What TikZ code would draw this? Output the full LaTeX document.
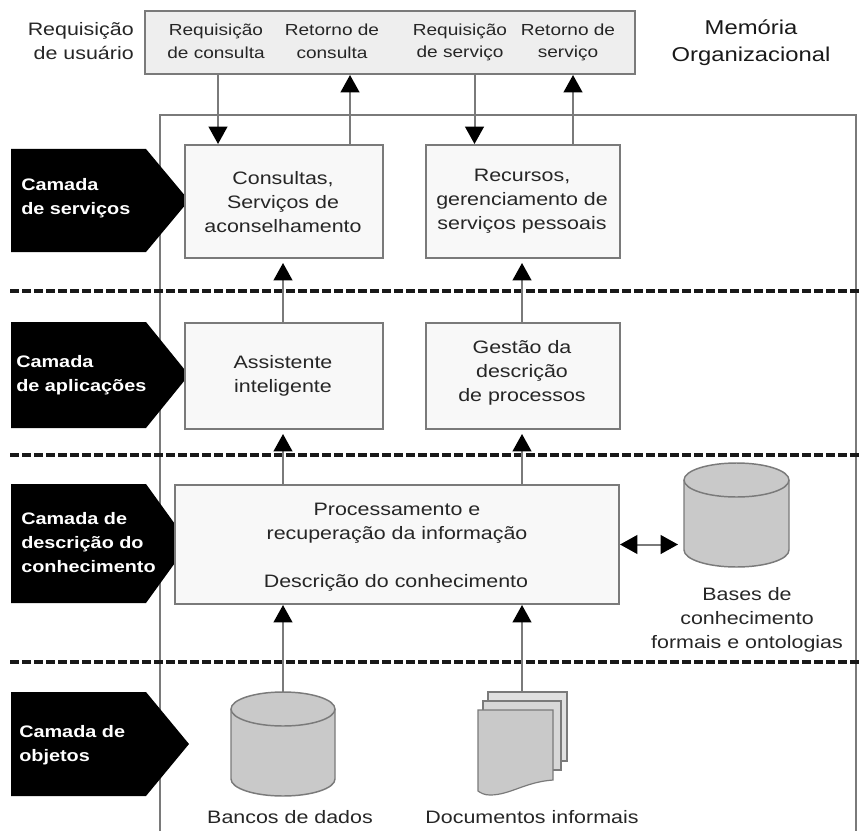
\documentclass[tikz,border=0pt]{standalone}
\usepackage{fontspec}
\setmainfont[FakeStretch=1.19]{Liberation Sans}
\usetikzlibrary{arrows.meta,shapes.geometric}
\definecolor{linegray}{HTML}{7A7A7A}
\definecolor{boxfill}{HTML}{F8F8F8}
\definecolor{topfill}{HTML}{EEEEEE}
\definecolor{shapefill}{HTML}{C9C9C9}
\newcommand{\cyl}[4]{% left, right, top, bottom
  \draw[shapeline] (#1,#3+17) -- (#1,#4-17) arc[start angle=180,end angle=0,x radius={(#2-#1)/2},y radius=17] -- (#2,#3+17) arc[start angle=0,end angle=-180,x radius={(#2-#1)/2},y radius=17] -- cycle;
  \draw[shapeline] (#1,#3+17) arc[start angle=180,end angle=0,x radius={(#2-#1)/2},y radius=17];
}
\tikzset{
  x=0.75pt,y=-0.75pt,
  frameline/.style={draw=linegray,line width=1.5pt},
  shapeline/.style={draw=linegray,line width=1.1pt,fill=shapefill},
  box/.style={rectangle,draw=linegray,line width=1.5pt,fill=boxfill,anchor=north west,inner sep=0pt,align=center,text=black!85},
  lbl/.style={align=center,inner sep=0pt,text=black!85,font=\fontsize{13.5pt}{18pt}\selectfont},
  small/.style={align=center,inner sep=0pt,text=black!85,font=\fontsize{12pt}{17pt}\selectfont},
  layer/.style={align=left,inner sep=0pt,anchor=west,text=white,font=\fontsize{12.5pt}{18pt}\selectfont\bfseries},
  sep/.style={draw=black!90,line width=2.7pt,dash pattern=on 6.4pt off 2.6pt},
  conn/.style={draw=linegray,line width=1.5pt},
  tip/.style={-{Triangle[black,width=14pt,length=13pt]}},
  blank/.style={inner sep=0pt,minimum size=0pt,anchor=north west,rectangle},
}
\begin{document}
\begin{tikzpicture}
\useasboundingbox (0,0) rectangle (859,831);
% outer frame
\draw[frameline] (159.5,831) -- (159.5,115) -- (856,115) -- (856,831);
% separators
\foreach \y in {291,455,662}{
  \draw[sep] (10,\y) -- (859,\y);
}
% layer pentagons
\foreach \t/\b in {149/252,322/428,484/603,692/796}{
  \fill[black] (11,\t) -- (146,\t) -- (189,{(\t+\b)/2}) -- (146,\b) -- (11,\b) -- cycle;
}
\node[layer] (l1) at (21,198.5) {Camada\\de serviços};
\node[layer] (l2) at (16,375) {Camada\\de aplicações};
\node[layer] (l3) at (21,543) {Camada de\\descrição do\\conhecimento};
\node[layer] (l4) at (19,745) {Camada de\\objetos};
% top box
\node[box,fill=topfill,minimum width=367.5pt,minimum height=47.25pt] (top) at (144,10) {};
\node[small] (t1) at (216,41) {Requisição\\de consulta};
\node[small] (t2) at (332,41) {Retorno de\\consulta};
\node[small] (t3) at (460,42.5) {Requisição\\de serviço};
\node[small] (t4) at (568,42.5) {Retorno de\\serviço};
\node[lbl,align=right,anchor=east] (ru) at (134,41) {Requisição\\de usuário};
\node[align=center,inner sep=0pt,text=black!90,font=\fontsize{15pt}{20pt}\selectfont] (mo) at (751,43) {Memória\\Organizacional};
% boxes
\node[box,minimum width=148.5pt,minimum height=84.75pt] (b1) at (184,144) {};
\node[lbl] at (283,202) {Consultas,\\Serviços de\\aconselhamento};
\node[box,minimum width=145.5pt,minimum height=84.75pt] (b2) at (425,144) {};
\node[lbl] at (522,201) {Recursos,\\gerenciamento de\\serviços pessoais};
\node[box,minimum width=148.5pt,minimum height=79.5pt] (b3) at (184,322) {};
\node[lbl] at (283,376) {Assistente\\inteligente};
\node[box,minimum width=145.5pt,minimum height=79.5pt] (b4) at (425,322) {};
\node[lbl] at (522,373) {Gestão da\\descrição\\de processos};
\node[box,minimum width=333pt,minimum height=89.25pt] (b5) at (174,484) {};
\node[lbl] at (397,523) {Processamento e\\recuperação da informação};
\node[lbl] at (396,583) {Descrição do conhecimento};
% cylinders and document stack
\cyl{231}{335}{692}{796}
\cyl{684}{789}{463}{567}
\node[blank,minimum width=78pt,minimum height=78pt] (db) at (231,692) {};
\node[blank,minimum width=78.75pt,minimum height=78pt] (kb) at (684,463) {};
\draw[shapeline,line width=0.9pt,fill=boxfill!50!shapefill] (488,692) -- (567,692) -- (567,761) -- (488,761) -- cycle;
\draw[shapeline,line width=0.9pt,fill=boxfill!30!shapefill] (483,701) -- (561,701) -- (561,770) -- (483,770) -- cycle;
\draw[shapeline,line width=0.9pt] (478,710) -- (553,710) -- (553,780) .. controls (525,782) and (510,795) .. (490,795) .. controls (484,795) and (481,793) .. (478,791) -- cycle;
\node[blank,minimum width=59pt,minimum height=3pt] (docs) at (478,692) {};
\node[lbl] at (290,817) {Bancos de dados};
\node[lbl] at (532,817) {Documentos informais};
\node[lbl] at (747,620) {Bases de\\conhecimento\\formais e ontologias};
% connectors
\coordinate (xa) at (218,0);
\coordinate (xb) at (350,0);
\coordinate (xc) at (474.5,0);
\coordinate (xd) at (573,0);
\coordinate (xe) at (283,0);
\coordinate (xf) at (522,0);
\draw[conn,tip] (xa |- top.south) -- (xa |- b1.north);
\draw[conn,tip] (xb |- b1.north) -- (xb |- top.south);
\draw[conn,tip] (xc |- top.south) -- (xc |- b2.north);
\draw[conn,tip] (xd |- b2.north) -- (xd |- top.south);
\draw[conn,tip,shorten >=3pt] (xe |- b3.north) -- (xe |- b1.south);
\draw[conn,tip,shorten >=3pt] (xf |- b4.north) -- (xf |- b2.south);
\draw[conn,tip,shorten >=3pt] (xe |- b5.north) -- (xe |- b3.south);
\draw[conn,tip,shorten >=3pt] (xf |- b5.north) -- (xf |- b4.south);
\draw[conn,tip] (xe |- db.north) -- (xe |- b5.south);
\draw[conn,tip] (xf |- docs.north) -- (xf |- b5.south);
\draw[conn,{Triangle[black,width=14pt,length=13pt]}-{Triangle[black,width=14pt,length=13pt]},shorten >=4.5pt] (b5.east) -- (b5.east -| kb.west);
\end{tikzpicture}
\end{document}
